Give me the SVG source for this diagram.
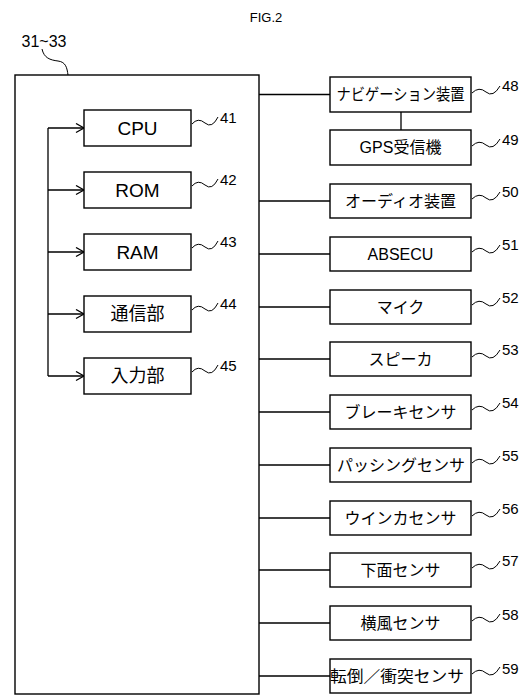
<svg xmlns="http://www.w3.org/2000/svg" width="527" height="697" viewBox="0 0 527 697">
<style>
.box{fill:#fff;stroke:#000;stroke-width:1.4}
.ln{fill:none;stroke:#000;stroke-width:1.3}
.ld{fill:none;stroke:#000;stroke-width:1}
.t{font-family:"Liberation Sans","Noto Sans CJK JP",sans-serif;font-size:16px;text-anchor:middle;dominant-baseline:central;fill:#000}
.e{font-family:"Liberation Sans",sans-serif;font-size:19px;text-anchor:middle;dominant-baseline:central;fill:#000}
.n{font-family:"Liberation Sans",sans-serif;font-size:15px;text-anchor:start;dominant-baseline:central;fill:#000}
</style>
<defs>
<marker id="ar" markerUnits="userSpaceOnUse" markerWidth="12" markerHeight="12" refX="9" refY="5" orient="auto">
<path d="M1,0.5 L9,5 L1,9.5" fill="none" stroke="#000" stroke-width="1.3"/>
</marker>
</defs>
<rect width="527" height="697" fill="#fff"/>
<text x="266" y="17" font-family="Liberation Sans, sans-serif" font-size="13" text-anchor="middle" dominant-baseline="central">FIG.2</text>

<g id="controller">
<rect class="box" x="15" y="75" width="244" height="619"/>
<text x="44" y="41" font-family="Liberation Sans, sans-serif" font-size="16" text-anchor="middle" dominant-baseline="central">31~33</text>
<path class="ld" d="M42,49 C44,58 50,60 58,61 C66,62 67,68 68,75"/>
</g>

<g id="connectors">
<path class="ln" d="M48,128 V376"/>
<path class="ln" d="M48,128 H84" marker-end="url(#ar)"/>
<path class="ln" d="M48,190 H84" marker-end="url(#ar)"/>
<path class="ln" d="M48,252 H84" marker-end="url(#ar)"/>
<path class="ln" d="M48,314 H84" marker-end="url(#ar)"/>
<path class="ln" d="M48,376 H84" marker-end="url(#ar)"/>
<path class="ln" d="M259,94.5 H330"/>
<path class="ln" d="M401,112 V130"/>
<path class="ln" d="M259,201 H330"/>
<path class="ln" d="M259,254 H330"/>
<path class="ln" d="M259,307 H330"/>
<path class="ln" d="M259,359 H330"/>
<path class="ln" d="M259,412 H330"/>
<path class="ln" d="M259,465 H330"/>
<path class="ln" d="M259,518 H330"/>
<path class="ln" d="M259,570 H330"/>
<path class="ln" d="M259,623 H330"/>
<path class="ln" d="M259,676 H330"/>
</g>

<g id="cpu"><rect class="box" x="84" y="110" width="107" height="36"/><text class="e" x="137.5" y="128">CPU</text>
<path class="ld" d="M192,124 q6,-7 13,-1 t13,-6"/><text class="n" x="220" y="117">41</text></g>
<g id="rom"><rect class="box" x="84" y="172" width="107" height="36"/><text class="e" x="137.5" y="190">ROM</text>
<path class="ld" d="M192,186 q6,-7 13,-1 t13,-6"/><text class="n" x="220" y="179">42</text></g>
<g id="ram"><rect class="box" x="84" y="234" width="107" height="36"/><text class="e" x="137.5" y="252">RAM</text>
<path class="ld" d="M192,248 q6,-7 13,-1 t13,-6"/><text class="n" x="220" y="241">43</text></g>
<g id="comm"><rect class="box" x="84" y="296" width="107" height="36"/><text class="t" x="137.5" y="314" font-size="18" style="font-size:18px">通信部</text>
<path class="ld" d="M192,310 q6,-7 13,-1 t13,-6"/><text class="n" x="220" y="303">44</text></g>
<g id="input"><rect class="box" x="84" y="358" width="107" height="36"/><text class="t" x="137.5" y="376" style="font-size:18px">入力部</text>
<path class="ld" d="M192,372 q6,-7 13,-1 t13,-6"/><text class="n" x="220" y="365">45</text></g>

<g id="nav"><rect class="box" x="330" y="77" width="141" height="35"/><text class="t" x="400.5" y="94.5" textLength="128" lengthAdjust="spacingAndGlyphs">ナビゲーション装置</text>
<path class="ld" d="M472,93 q7,-7 14,-1 t14,-6"/><text class="n" x="502" y="85">48</text></g>
<g id="gps"><rect class="box" x="330" y="130" width="141" height="35"/><text class="t" x="400.5" y="147.5">GPS受信機</text>
<path class="ld" d="M472,146 q7,-7 14,-1 t14,-6"/><text class="n" x="502" y="139">49</text></g>
<g id="audio"><rect class="box" x="330" y="184" width="141" height="34"/><text class="t" x="400.5" y="201">オーディオ装置</text>
<path class="ld" d="M472,199 q7,-7 14,-1 t14,-6"/><text class="n" x="502" y="191">50</text></g>
<g id="absecu"><rect class="box" x="330" y="237" width="141" height="34"/><text class="t" x="400.5" y="254">ABSECU</text>
<path class="ld" d="M472,252 q7,-7 14,-1 t14,-6"/><text class="n" x="502" y="244">51</text></g>
<g id="mic"><rect class="box" x="330" y="290" width="141" height="34"/><text class="t" x="400.5" y="307">マイク</text>
<path class="ld" d="M472,305 q7,-7 14,-1 t14,-6"/><text class="n" x="502" y="297">52</text></g>
<g id="speaker"><rect class="box" x="330" y="342" width="141" height="34"/><text class="t" x="400.5" y="359">スピーカ</text>
<path class="ld" d="M472,357 q7,-7 14,-1 t14,-6"/><text class="n" x="502" y="349">53</text></g>
<g id="brake"><rect class="box" x="330" y="395" width="141" height="34"/><text class="t" x="400.5" y="412">ブレーキセンサ</text>
<path class="ld" d="M472,410 q7,-7 14,-1 t14,-6"/><text class="n" x="502" y="402">54</text></g>
<g id="passing"><rect class="box" x="330" y="448" width="141" height="34"/><text class="t" x="401" y="465">パッシングセンサ</text>
<path class="ld" d="M472,463 q7,-7 14,-1 t14,-6"/><text class="n" x="502" y="455">55</text></g>
<g id="winker"><rect class="box" x="330" y="501" width="141" height="34"/><text class="t" x="400.5" y="518">ウインカセンサ</text>
<path class="ld" d="M472,516 q7,-7 14,-1 t14,-6"/><text class="n" x="502" y="508">56</text></g>
<g id="under"><rect class="box" x="330" y="553" width="141" height="34"/><text class="t" x="400.5" y="570">下面センサ</text>
<path class="ld" d="M472,568 q7,-7 14,-1 t14,-6"/><text class="n" x="502" y="560">57</text></g>
<g id="crosswind"><rect class="box" x="330" y="606" width="141" height="34"/><text class="t" x="400.5" y="623">横風センサ</text>
<path class="ld" d="M472,621 q7,-7 14,-1 t14,-6"/><text class="n" x="502" y="614">58</text></g>
<g id="rollover"><rect class="box" x="330" y="659" width="141" height="34"/><text class="t" x="397" y="676" textLength="134" lengthAdjust="spacingAndGlyphs">転倒／衝突センサ</text>
<path class="ld" d="M472,674 q7,-7 14,-1 t14,-6"/><text class="n" x="502" y="668">59</text></g>
</svg>
